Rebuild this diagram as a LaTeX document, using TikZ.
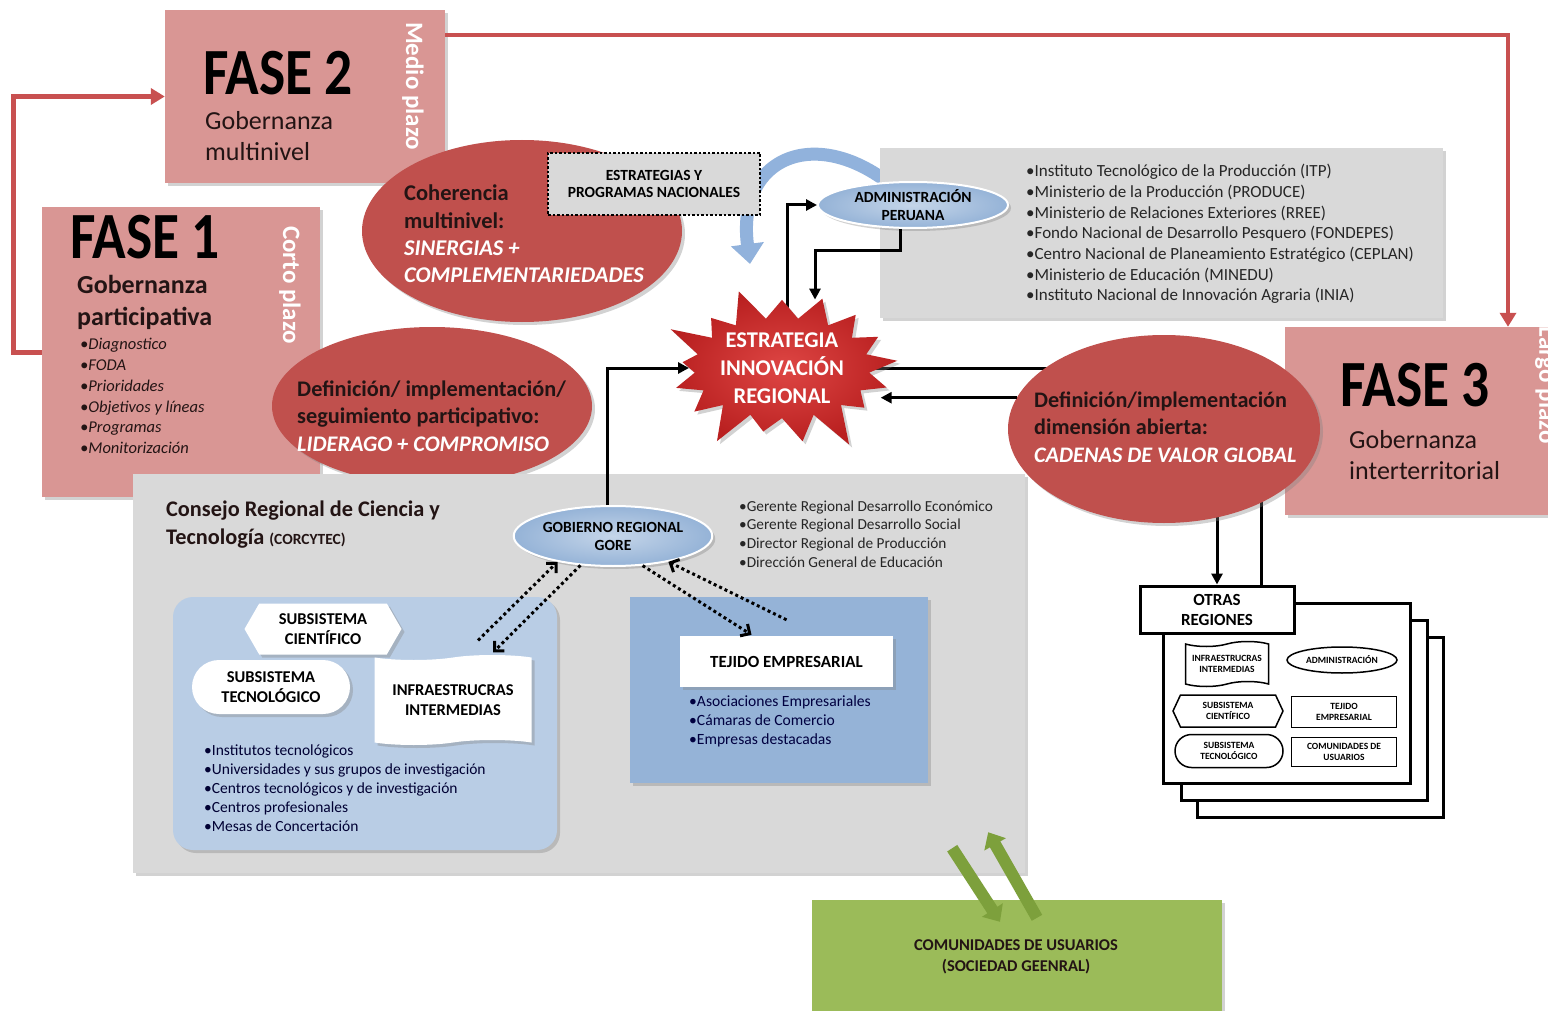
\documentclass[tikz,border=0pt]{standalone}
\usepackage{fontspec}
\setmainfont{Carlito}
\newfontfamily\fasefont{Carlito}[FakeStretch=0.84]
\usetikzlibrary{shapes.geometric,shapes.symbols,shapes.misc,arrows.meta,shadows}
\definecolor{fasepink}{RGB}{217,150,148}
\definecolor{ellred}{RGB}{192,80,77}
\definecolor{redline}{RGB}{200,80,80}
\definecolor{starred}{RGB}{222,70,68}
\definecolor{stardark}{RGB}{185,32,32}
\definecolor{govblue}{RGB}{149,179,215}
\definecolor{panelgray}{RGB}{217,217,217}
\definecolor{paleblue}{RGB}{185,205,229}
\definecolor{arrowblue}{RGB}{145,178,220}
\definecolor{usergreen}{RGB}{155,187,89}
\definecolor{arrowgreen}{RGB}{125,160,60}
\definecolor{inktext}{RGB}{35,20,20}
\newcommand\fsz[2]{\fontsize{#1}{#2}\selectfont}
\pgfdeclarelayer{back}
\pgfsetlayers{back,main}

\begin{document}
\begin{tikzpicture}[x=1pt,y=-1pt,
  boxshadow/.style={drop shadow={shadow xshift=3pt,shadow yshift=-3pt,opacity=0.35}},
  fasebox/.style={rectangle,fill=fasepink,boxshadow,inner sep=0pt},
  fasetitle/.style={anchor=west,inner sep=0pt,font=\fasefont\bfseries\fsz{66}{70}},
  redell/.style={ellipse,fill=ellred,boxshadow,inner sep=0pt},
  blueell/.style={ellipse,draw=white,line width=2pt,inner color=govblue!55,outer color=govblue,boxshadow,font=\bfseries\fsz{15.5}{18},align=center,inner sep=0pt},
  panel/.style={rectangle,fill=panelgray,boxshadow,inner sep=0pt},
  txt/.style={anchor=west,align=left,inner sep=0pt},
  plazo/.style={rotate=-90,text=white,font=\bfseries\fsz{25}{28},inner sep=0pt},
  faseline/.style={draw=redline,line width=5pt,-{Triangle[length=14pt,width=16pt]}},
  conn/.style={line width=3pt,-{Triangle[length=11pt,width=11pt]}},
  link/.style={line width=3pt},
  dotarrow/.style={line width=3pt,dash pattern=on 3pt off 3pt,-{Straight Barb[length=7pt,width=14pt,line width=3pt]}},
  whitebox/.style={fill=white,boxshadow,font=\bfseries\fsz{16.5}{20},align=center,inner sep=0pt},
  sheet/.style={rectangle,draw,fill=white,line width=3pt},
  mini/.style={draw,fill=white,line width=1.5pt,font=\bfseries\fsz{9.5}{11.5},align=center,inner sep=0pt},
  greenarrow/.style={draw=arrowgreen,line width=12pt,-{Triangle[length=14pt,width=24pt]}}]
\useasboundingbox (0,0) rectangle (1548,1011);
\clip (0,0) rectangle (1548,1011);
\begin{pgfonlayer}{back}
\fill[white] (0,0) rectangle (1548,1011);
\end{pgfonlayer}

\node[fasebox,minimum width=280pt,minimum height=173pt] (fase2) at (305,96.5) {};
\node[fasetitle] (f2title) at (203,73) {FASE 2};
\node[txt,font=\fsz{26}{31},text=inktext] (f2sub) at (205,136) {Gobernanza\\multinivel};
\node[plazo] (f2term) at (413,86) {Medio plazo};

\node[fasebox,minimum width=278pt,minimum height=290pt] (fase1) at (181,352) {};
\node[fasetitle] (f1title) at (70,237) {FASE 1};
\node[txt,font=\bfseries\fsz{26}{32},text=inktext] (f1sub) at (77,302) {Gobernanza\\participativa};
\node[txt,font=\itshape\fsz{16.5}{20.8},text=inktext] (f1list) at (80,396) {•Diagnostico\\•FODA\\•Prioridades\\•Objetivos y líneas\\•Programas\\•Monitorización};
\node[plazo] (f1term) at (290,285) {Corto plazo};

\node[fasebox,minimum width=275pt,minimum height=188pt] (fase3) at (1422.5,421) {};
\node[fasetitle] (f3title) at (1340,385) {FASE 3};
\node[txt,font=\fsz{26}{31},text=inktext] (f3sub) at (1349,455) {Gobernanza\\interterritorial};
\node[plazo] (f3term) at (1546,385) {Largo plazo};

\draw[faseline] (fase1.west) -- ++(-28,0) |- (fase2.west);
\draw[faseline,line width=4pt] ([yshift=-25pt]fase2.north east) -| ([xshift=85.5pt]fase3.north);

\node[redell,minimum width=320pt,minimum height=182pt] (coher) at (522,231) {};
\node[txt,font=\bfseries\fsz{22.5}{27.3},text=inktext] (cohertext) at (404,234) {Coherencia\\multinivel:\\\textcolor{white}{\itshape SINERGIAS +}\\\textcolor{white}{\itshape COMPLEMENTARIEDADES}};
\node[draw,fill=panelgray,line width=2.5pt,dash pattern=on 2.5pt off 2pt,minimum width=212pt,minimum height=62pt,inner sep=0pt,font=\bfseries\fsz{15.5}{17},align=center] (nacional) at (654,184) {ESTRATEGIAS Y\\PROGRAMAS NACIONALES};

\node[redell,minimum width=320pt,minimum height=158pt] (defpart) at (432,406) {};
\node[txt,font=\bfseries\fsz{22.3}{27.5},text=inktext] (defparttext) at (297,416) {Definición/ implementación/\\seguimiento participativo:\\\textcolor{white}{\itshape LIDERAGO + COMPROMISO}};

\node[panel,minimum width=563pt,minimum height=170pt] (nationlist) at (1161.5,233) {};
\node[txt,font=\fsz{17}{20.7},text=black!85] (nationtext) at (1026,234) {•Instituto Tecnológico de la Producción (ITP)\\•Ministerio de la Producción (PRODUCE)\\•Ministerio de Relaciones Exteriores (RREE)\\•Fondo Nacional de Desarrollo Pesquero (FONDEPES)\\•Centro Nacional de Planeamiento Estratégico (CEPLAN)\\•Ministerio de Educación (MINEDU)\\•Instituto Nacional de Innovación Agraria (INIA)};

\node[blueell,minimum width=190pt,minimum height=46pt] (admin) at (913,205) {ADMINISTRACIÓN\\PERUANA};
\coordinate (bluetip) at (750,264);
\begin{pgfonlayer}{back}
\draw[draw=arrowblue,line width=13pt,-{Triangle[length=20pt,width=32pt]}] (admin.center) .. controls (830,118) and (735,150) .. (bluetip);
\end{pgfonlayer}

\node[starburst,starburst points=17,starburst point height=40pt,random starburst=9,inner color=starred,outer color=stardark,boxshadow,minimum width=235pt,minimum height=172pt,text=white,font=\bfseries\fsz{22.5}{28},align=center,inner sep=0pt] (star) at (782,368) {ESTRATEGIA\\INNOVACIÓN\\REGIONAL};

\node[panel,minimum width=892pt,minimum height=399pt] (consejo) at (579,673.5) {};
\node[txt,font=\bfseries\fsz{22.3}{28},text=inktext] (consejotext) at (166,525) {Consejo Regional de Ciencia y\\Tecnología {\fsz{15.5}{28}(CORCYTEC)}};

\node[blueell,minimum width=194pt,minimum height=60pt] (gore) at (613,536) {GOBIERNO REGIONAL\\GORE};
\node[txt,font=\fsz{15.3}{18.7},text=black!85] (goretext) at (739,534) {•Gerente Regional Desarrollo Económico\\•Gerente Regional Desarrollo Social\\•Director Regional de Producción\\•Dirección General de Educación};

\node[rounded corners=20pt,fill=paleblue,boxshadow,minimum width=384pt,minimum height=253pt,inner sep=0pt] (sistema) at (365,723.5) {};
\node[signal,signal to=west and east,signal pointer angle=120,whitebox,minimum width=157pt,minimum height=51pt] (cientifico) at (323,629) {SUBSISTEMA\\CIENTÍFICO};
\node[rounded rectangle,whitebox,minimum width=158pt,minimum height=54pt] (tecnologico) at (271,687) {SUBSISTEMA\\TECNOLÓGICO};
\node[tape,whitebox,minimum width=157pt,minimum height=90pt] (infra) at (453,700) {INFRAESTRUCRAS\\INTERMEDIAS};
\node[txt,font=\fsz{15.5}{19},text=black!80!blue] (sistematext) at (204,788) {•Institutos tecnológicos\\•Universidades y sus grupos de investigación\\•Centros tecnológicos y de investigación\\•Centros profesionales\\•Mesas de Concertación};

\node[fill=govblue,boxshadow,minimum width=298pt,minimum height=186pt,inner sep=0pt] (empresa) at (779,690) {};
\node[whitebox,minimum width=213pt,minimum height=51pt,font=\bfseries\fsz{17}{20}] (tejido) at (786.5,661.5) {TEJIDO EMPRESARIAL};
\node[txt,font=\fsz{15.6}{19},text=black!75!blue] (empresatext) at (689,721) {•Asociaciones Empresariales\\•Cámaras de Comercio\\•Empresas destacadas};

\draw[dotarrow] ([xshift=25pt,yshift=17pt]infra.north) -- (gore.205);
\draw[dotarrow] (gore.222) -- ([xshift=40pt,yshift=5pt]infra.north);
\draw[dotarrow] (gore.315) -- ([xshift=-35pt,yshift=1pt]tejido.north);
\draw[dotarrow] ([yshift=16pt]tejido.north) -- (gore.335);

\node[redell,minimum width=312pt,minimum height=188pt] (defdim) at (1164,429) {};
\node[txt,font=\bfseries\fsz{22.2}{27.5},text=inktext] (defdimtext) at (1034,427) {Definición/implementación\\dimensión abierta:\\\textcolor{white}{\itshape CADENAS DE VALOR GLOBAL}};

\node[sheet,minimum width=246pt,minimum height=180pt] (sheetc) at (1320,727) {};
\node[sheet,minimum width=246pt,minimum height=180pt] (sheetb) at (1304,710) {};
\node[sheet,minimum width=247pt,minimum height=180pt] (sheeta) at (1286.5,693) {};
\node[sheet,minimum width=154pt,minimum height=47pt,font=\bfseries\fsz{17}{20},align=center,inner sep=0pt] (otras) at (1217,609.5) {OTRAS\\REGIONES};
\node[mini,tape,minimum width=83pt,minimum height=45pt] (oinfra) at (1227,664) {INFRAESTRUCRAS\\INTERMEDIAS};
\node[mini,ellipse,minimum width=110pt,minimum height=26pt] (oadmin) at (1342,660) {ADMINISTRACIÓN};
\node[mini,signal,signal to=west and east,signal pointer angle=130,minimum width=110pt,minimum height=32pt] (ocient) at (1228,711) {SUBSISTEMA\\CIENTÍFICO};
\node[mini,minimum width=105pt,minimum height=31pt] (otejido) at (1344,712) {TEJIDO\\EMPRESARIAL};
\node[mini,rounded rectangle,minimum width=108pt,minimum height=33pt] (otecno) at (1229,751) {SUBSISTEMA\\TECNOLÓGICO};
\node[mini,minimum width=105pt,minimum height=29pt] (ocomun) at (1344,752) {COMUNIDADES DE\\USUARIOS};

\node[fill=usergreen,boxshadow,minimum width=410pt,minimum height=130pt,inner sep=0pt] (usuarios) at (1017,965) {};
\node[font=\bfseries\fsz{16.5}{21},text=inktext,align=center,inner sep=0pt] (usuariostext) at (1016,957) {COMUNIDADES DE USUARIOS\\(SOCIEDAD GEENRAL)};

\draw[greenarrow] ([xshift=-73pt,yshift=25pt]consejo.south east) -- ([xshift=-17pt,yshift=-22pt]usuarios.north);
\draw[greenarrow] ([xshift=20pt,yshift=-18pt]usuarios.north) -- ([xshift=-37pt,yshift=41pt]consejo.south east);

\draw[conn] ([xshift=-6pt]gore.north) |- (star.west);
\draw[conn] ([xshift=-13pt]admin.south) -- ++(0,22) -| ([xshift=33pt]star.north);
\draw[conn] (defdim.168) -- (defdim.168 -| star.east);
\begin{pgfonlayer}{back}
\draw[conn] ([xshift=5pt]star.center) |- (admin.west);
\draw[link] (star.center) -- (star.center -| defdim.center);
\draw[conn] (otras.north |- defdim.center) -- (otras.north);
\draw[link] ([xshift=44pt]otras.north) -- ([xshift=44pt]otras.north |- defdim.center);
\end{pgfonlayer}
\end{tikzpicture}
\end{document}
